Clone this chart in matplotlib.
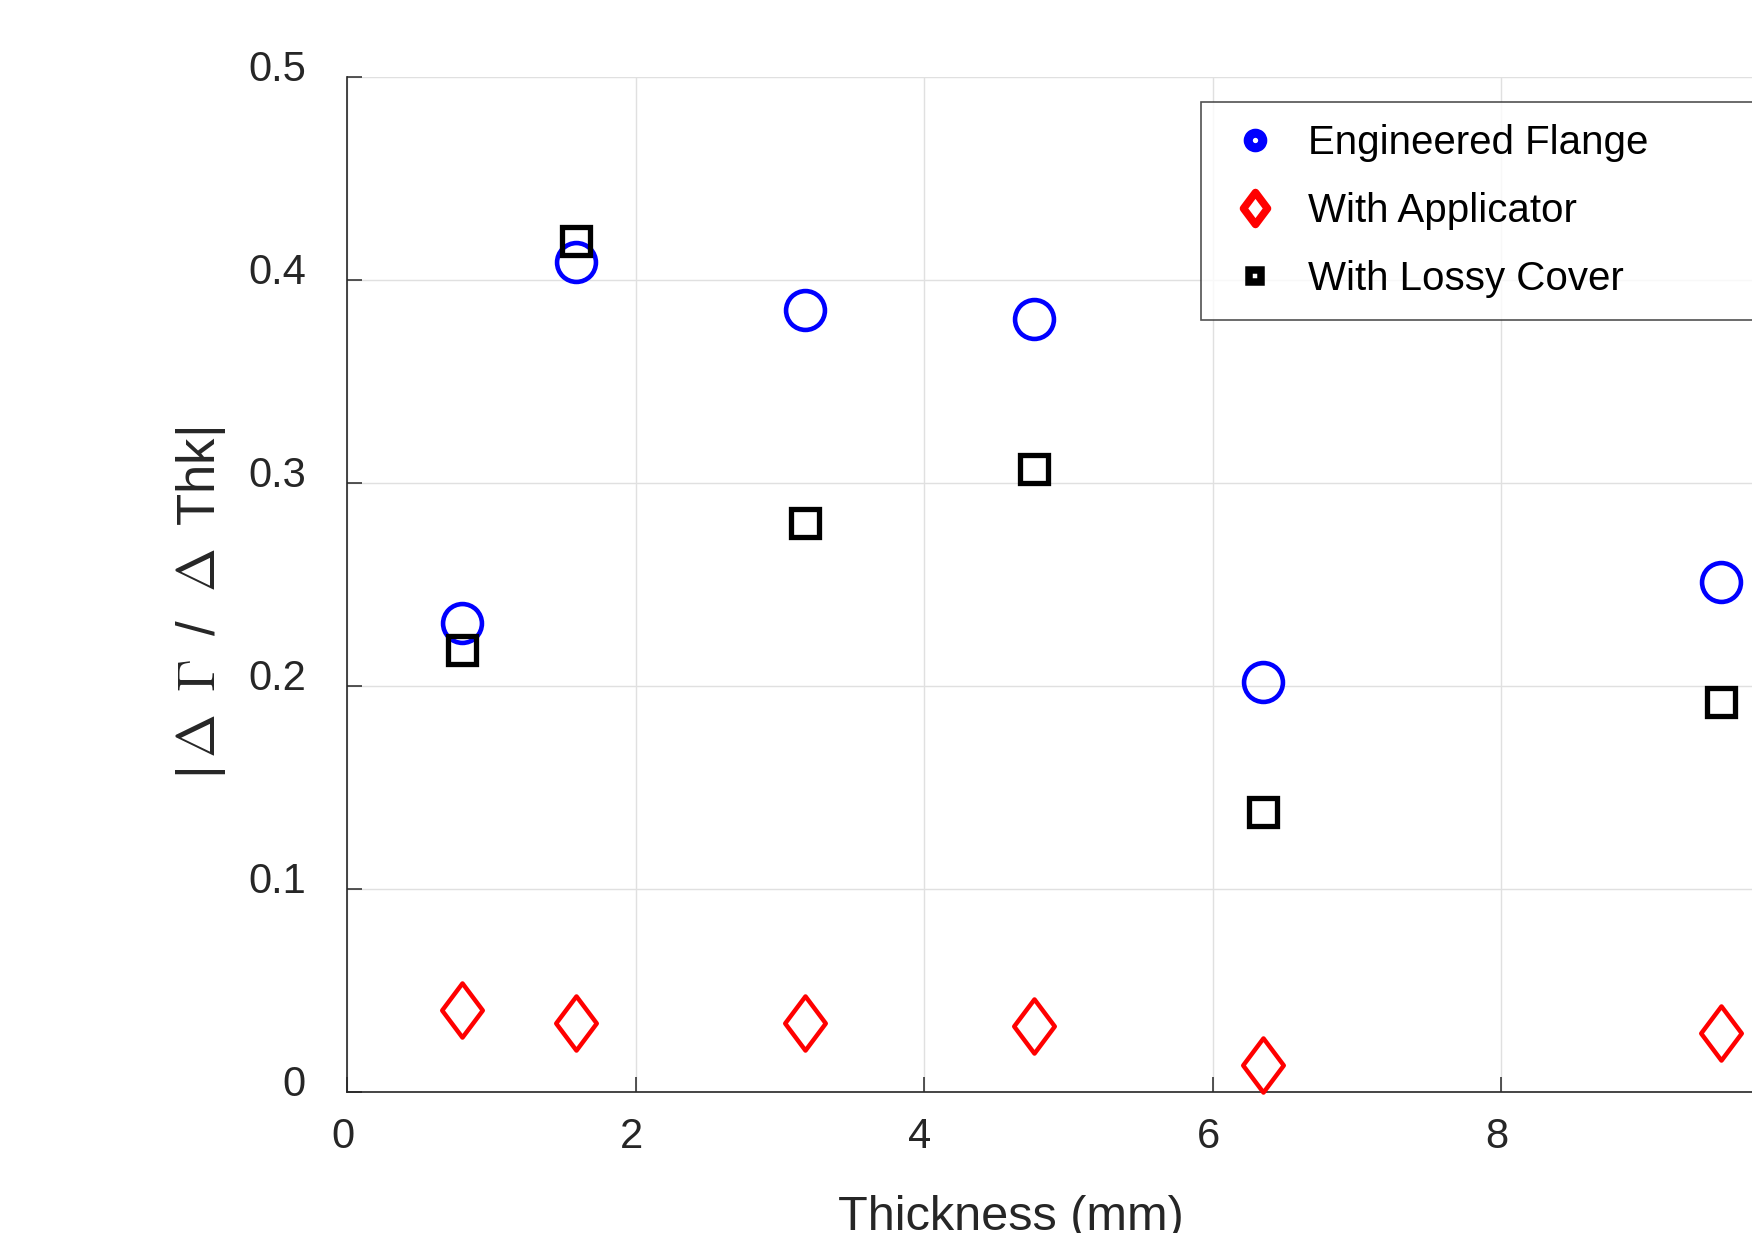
import numpy as np
import matplotlib
matplotlib.use("Agg")
import matplotlib.pyplot as plt
import matplotlib.transforms as mtransforms
from matplotlib.lines import Line2D
from matplotlib.path import Path

plt.rcParams['font.family'] = ['Liberation Sans', 'DejaVu Sans']
plt.rcParams['mathtext.fontset'] = 'cm'

# data (thickness in mm, |dGamma/dThk|)
thickness = [0.79375, 1.5875, 3.175, 4.7625, 6.35, 9.525]
flange = [0.231, 0.409, 0.385, 0.381, 0.202, 0.251]
applicator = [0.040, 0.034, 0.034, 0.0325, 0.013, 0.029]
lossy = [0.2175, 0.419, 0.280, 0.307, 0.138, 0.192]

xticks = [0, 2, 4, 6, 8]
yticks = [0, 0.1, 0.2, 0.3, 0.4, 0.5]
ytick_labels = ['0', '0.1', '0.2', '0.3', '0.4', '0.5']

dark = '#262626'
# matlab style diamond, a bit wider than 'd'
diamond = Path([(0, 1), (0.75, 0), (0, -1), (-0.75, 0), (0, 1)],
               [Path.MOVETO, Path.LINETO, Path.LINETO, Path.LINETO, Path.CLOSEPOLY])

fig = plt.figure(figsize=(17.52, 12.33), dpi=100)
ax = fig.add_axes([0.1983, 0.1147, 0.823, 0.8228])

ax.plot(thickness, flange, ls='none', marker='o', ms=28, mew=3.3,
        mec='#0000ff', mfc='none', clip_on=False, zorder=3)
ax.plot(thickness, applicator, ls='none', marker=diamond, ms=39, mew=3.2,
        mec='#ff0000', mfc='none', clip_on=False, zorder=3)
ax.plot(thickness, lossy, ls='none', marker='s', ms=19.5, mew=3.8,
        mec='black', mfc='none', clip_on=False, zorder=3)

ax.set_xlim(0, 10)
ax.set_ylim(0, 0.5)
ax.set_xticks(xticks)
ax.set_yticks(yticks)
ax.set_yticklabels(ytick_labels)
ax.grid(True, color='#e0e0e0', lw=1.0)
ax.set_axisbelow(True)
for s in ['top', 'right']:
    ax.spines[s].set_visible(False)
for s in ['left', 'bottom']:
    ax.spines[s].set_color(dark)
    ax.spines[s].set_linewidth(1.2)
ax.tick_params(direction='in', length=11, width=1.1, color=dark,
               labelcolor=dark, labelsize=30)
ax.tick_params(axis='y', pad=30)
ax.tick_params(axis='x', pad=18)

# matlab puts y tick labels a little above the tick
shift = mtransforms.ScaledTranslation(0, 8 / 72, fig.dpi_scale_trans)
for lab in ax.get_yticklabels():
    lab.set_transform(lab.get_transform() + shift)
shift_x = mtransforms.ScaledTranslation(-3 / 72, 0, fig.dpi_scale_trans)
for lab in ax.get_xticklabels():
    lab.set_transform(lab.get_transform() + shift_x)

ax.set_xlabel('Thickness (mm)', fontsize=35, color=dark)
ax.xaxis.set_label_coords(0.46, -0.102)
ax.set_ylabel(r'|$\,\Delta$ $\,\Gamma\,$ /  $\Delta\,$ Thk|', fontsize=38, color=dark)
ax.yaxis.set_label_coords(-0.083, 0.4815)

handles = [
    Line2D([], [], ls='none', marker='o', ms=10.5, mew=6.5, mec='#0000ff', mfc='white'),
    Line2D([], [], ls='none', marker=diamond, ms=23, mew=5.5, mec='#ff0000', mfc='white'),
    Line2D([], [], ls='none', marker='s', ms=8.8, mew=5.4, mec='black', mfc='white'),
]
labels = ['Engineered Flange', 'With Applicator', 'With Lossy Cover']
leg = fig.legend(handles, labels, loc='upper left',
                 bbox_to_anchor=(0.6855, 0.5, 0.6, 0.4175), mode='expand',
                 fontsize=29, frameon=True, fancybox=False, labelspacing=0.75,
                 handlelength=1.6, handletextpad=0.5, borderpad=0.55,
                 borderaxespad=0)
leg.get_frame().set_edgecolor(dark)
leg.get_frame().set_linewidth(1.2)

fig.savefig('out.png', dpi=100)
